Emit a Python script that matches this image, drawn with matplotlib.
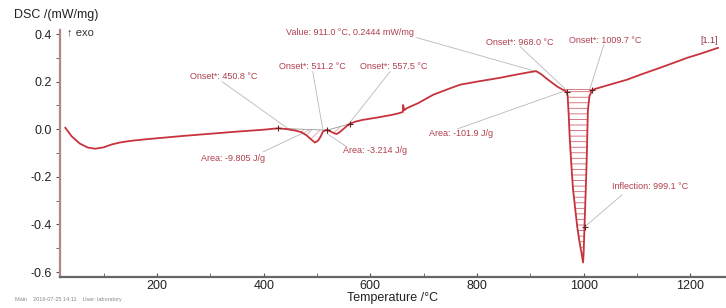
import numpy as np
import matplotlib
matplotlib.use('Agg')
import matplotlib.pyplot as plt

plt.rcParams['font.family'] = ['Liberation Sans', 'DejaVu Sans']
plt.rcParams['hatch.linewidth'] = 0.6

# DSC curve
temp = [28, 40, 55, 70, 84, 100, 115, 130, 150, 180, 210, 250, 300, 350, 400,
        427, 445, 460, 470, 480, 490, 496, 502, 507, 511, 516, 520, 526, 532,
        537, 542, 547, 555, 562, 572, 585, 610, 640, 655, 661, 661.5, 662.5,
        664, 668, 690, 718, 745, 768, 800, 843, 870, 899, 911, 920, 931, 941,
        950, 961, 968, 970, 972, 974, 977, 980, 984, 988, 992, 996, 999, 1000,
        1001.5, 1003, 1004.5, 1006, 1007, 1008, 1011, 1016, 1021, 1050, 1081,
        1110, 1143, 1170, 1194, 1220, 1252]
dsc = [0.006, -0.03, -0.06, -0.077, -0.082, -0.076, -0.064, -0.056, -0.049,
       -0.042, -0.036, -0.028, -0.019, -0.010, -0.002,
       0.004, 0.0, -0.006, -0.012, -0.025, -0.045, -0.056, -0.048, -0.030,
       -0.010, -0.004, -0.004, -0.010, -0.017,
       -0.020, -0.013, -0.004, 0.012, 0.023, 0.032, 0.039, 0.048, 0.060, 0.068,
       0.073, 0.102, 0.090,
       0.080, 0.088, 0.110, 0.145, 0.168, 0.187, 0.200, 0.216, 0.228, 0.240,
       0.244, 0.232, 0.212, 0.195,
       0.180, 0.166, 0.158, 0.140, 0.060, -0.040, -0.150, -0.250, -0.330,
       -0.410, -0.470, -0.520, -0.560, -0.520,
       -0.420, -0.320, -0.220, -0.110, -0.010, 0.080, 0.140, 0.163, 0.169,
       0.188, 0.208, 0.232, 0.258, 0.280, 0.300, 0.318, 0.342]

# evaluation results: (text, text position, leader start, leader end)
annotations = [
    ("Onset*: 450.8 °C", (325, 0.221), (322, 0.200), (451, -0.006)),
    ("Onset*: 511.2 °C", (491, 0.263), (492, 0.242), (511, -0.002)),
    ("Onset*: 557.5 °C", (644, 0.263), (637, 0.242), (557, 0.015)),
    ("Area: -9.805 J/g", (342, -0.124), (399, -0.095), (487, -0.002)),
    ("Area: -3.214 J/g", (609, -0.091), (556, -0.074), (519, -0.019)),
    ("Value: 911.0 °C, 0.2444 mW/mg", (562, 0.406), (687, 0.385), (912, 0.242)),
    ("Onset*: 968.0 °C", (881, 0.364), (881, 0.347), (967, 0.166)),
    ("Onset*: 1009.7 °C", (1040, 0.373), (1038, 0.356), (1012, 0.171)),
    ("Area: -101.9 J/g", (770, -0.019), (764, 0.002), (961, 0.158)),
    ("Inflection: 999.1 °C", (1124, -0.242), (1072, -0.276), (1002, -0.41)),
]

temp = np.array(temp)
dsc = np.array(dsc)

line_col = '#c8323c'
text_col = '#b0404c'
lead_col = '#b8b8b8'

fig = plt.figure(figsize=(7.26, 3.08), dpi=100)
ax = fig.add_axes([60 / 726, 31 / 308, 666 / 726, 247 / 308])

# hatched peak areas
m1 = (temp >= 427) & (temp <= 519)
base1 = np.interp(temp[m1], [427, 519], [0.004, -0.004])
ax.fill_between(temp[m1], dsc[m1], base1, facecolor='none', edgecolor='#e0a0a8',
                hatch='////', linewidth=0)
m2 = (temp >= 519) & (temp <= 562)
base2 = np.interp(temp[m2], [519, 562], [-0.004, 0.023])
ax.fill_between(temp[m2], dsc[m2], base2, facecolor='none', edgecolor='#e0a0a8',
                hatch='////', linewidth=0)
ax.plot([427, 519, 562], [0.004, -0.004, 0.023], color='#999999', lw=0.6)

m3 = (temp >= 961) & (temp <= 1021)
ax.fill_between(temp[m3], dsc[m3], 0.167, where=dsc[m3] <= 0.167,
                facecolor='none', edgecolor='#cc6670', hatch='---', linewidth=0)
ax.plot([961, 1021], [0.167, 0.167], color='#cc6670', lw=0.6)

# leader lines and labels
for text, tpos, p0, p1 in annotations:
    ax.plot([p0[0], p1[0]], [p0[1], p1[1]], color=lead_col, lw=0.6)
    ax.text(tpos[0], tpos[1], text, fontsize=6.5, color=text_col,
            ha='center', va='center')

ax.plot(temp, dsc, color=line_col, lw=1.3)

# small evaluation markers
ax.plot([427, 519, 562, 968, 1016, 1002], [0.004, -0.004, 0.023, 0.158, 0.163, -0.41],
        '+', color='#662222', ms=5, mew=0.8)

ax.text(1235, 0.373, "[1.1]", fontsize=6.5, color='#903040', ha='center', va='center')

ax.set_xlim(18, 1267)
ax.set_ylim(-0.621, 0.417)
ax.set_xticks([200, 400, 600, 800, 1000, 1200])
ax.set_xticks(np.arange(100, 1300, 100), minor=True)
ax.set_yticks([-0.6, -0.4, -0.2, 0.0, 0.2, 0.4])
ax.set_yticks(np.arange(-0.5, 0.4, 0.2), minor=True)
ax.set_yticklabels(['-0.6', '-0.4', '-0.2', '0.0', '0.2', '0.4'])

for s in ['top', 'right']:
    ax.spines[s].set_visible(False)
ax.spines['left'].set_color('#b08888')
ax.spines['left'].set_linewidth(1.6)
ax.spines['bottom'].set_color('#666666')
ax.spines['bottom'].set_linewidth(1.6)
ax.tick_params(axis='both', which='both', labelsize=9, colors='#555555',
               labelcolor='#222222')
ax.tick_params(axis='x', which='both', direction='in', length=3, pad=2)
ax.tick_params(axis='y', which='both', direction='out', length=3, pad=3)

ax.set_xlabel('Temperature /°C', fontsize=9, color='#222222', labelpad=0)

fig.text(14 / 726, 1 - 15 / 308, 'DSC /(mW/mg)', fontsize=9, color='#222222',
         ha='left', va='center')
fig.text(67 / 726, 1 - 32 / 308, '↑ exo', fontsize=8, color='#333333',
         ha='left', va='center')
fig.text(15 / 726, 1 - 300 / 308, 'Main    2019-07-25 14:11    User: laboratory',
         fontsize=4, color='#888888', ha='left', va='center')

fig.savefig('out.png', dpi=100)
